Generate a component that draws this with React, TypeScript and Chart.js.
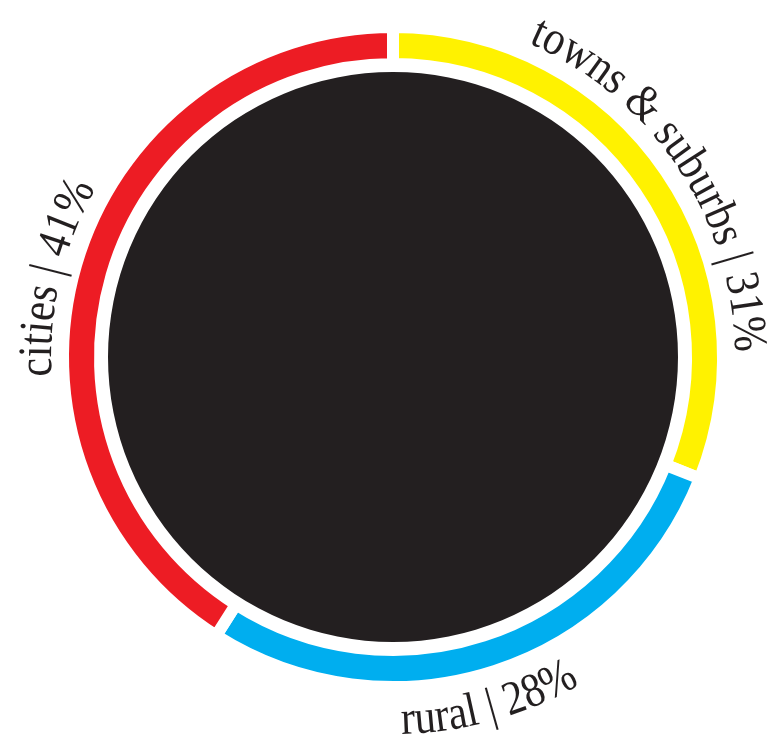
import React, { useEffect, useRef } from "react";
import { Chart, registerables } from "chart.js";

Chart.register(...registerables);

const categories = ["towns & suburbs", "rural", "cities"];
const shares = [31, 28, 41];
const colors = ["#FFF200", "#00AEEF", "#ED1C24"];
const labelShift = [0.5, 2.5, -3]; // degrees, clockwise
const discColor = "#231F20";
const textColor = "#231F20";

const curvedLabels = {
  id: "curvedLabels",
  afterDraw(chart: any) {
    const ctx = chart.ctx;
    const meta = chart.getDatasetMeta(0);
    const fontSize = 48;
    const sx = 0.88;
    ctx.save();
    ctx.font = `${fontSize}px "Liberation Serif", "Times New Roman", serif`;
    ctx.fillStyle = textColor;
    ctx.textAlign = "center";
    ctx.textBaseline = "alphabetic";
    meta.data.forEach((arc: any, i: number) => {
      const text = `${categories[i]} | ${shares[i]}%`;
      const cx = arc.x;
      const cy = arc.y;
      const mid = (arc.startAngle + arc.endAngle) / 2 + Math.PI / 2 + (labelShift[i] * Math.PI) / 180;
      const chars = Array.from(text);
      const widths = chars.map((c) => ctx.measureText(c).width * sx);
      const total = widths.reduce((a, b) => a + b, 0);
      const flip = mid > Math.PI / 2 && mid < (3 * Math.PI) / 2;
      const r = flip ? 377 : 342;
      let acc = 0;
      chars.forEach((c, k) => {
        const w = widths[k];
        let th: number;
        let rot: number;
        if (!flip) {
          th = mid - total / 2 / r + (acc + w / 2) / r;
          rot = th;
        } else {
          th = mid + total / 2 / r - (acc + w / 2) / r;
          rot = th - Math.PI;
        }
        const x = cx + r * Math.sin(th);
        const y = cy - r * Math.cos(th);
        ctx.save();
        ctx.translate(x, y);
        ctx.rotate(rot);
        ctx.scale(sx, 1);
        ctx.fillText(c, 0, 0);
        ctx.restore();
        acc += w;
      });
    });
    ctx.restore();
  },
};

export default function App() {
  const ref = useRef<HTMLCanvasElement>(null);
  useEffect(() => {
    if (!ref.current) return;
    const chart = new Chart(ref.current, {
      type: "pie",
      data: {
        labels: categories,
        datasets: [
          {
            data: shares,
            backgroundColor: colors,
            borderColor: "#ffffff",
            borderWidth: 12,
            weight: 37,
          } as any,
          {
            data: [1],
            backgroundColor: "rgba(0,0,0,0)",
            borderWidth: 0,
            weight: 8,
          } as any,
          {
            data: [1],
            backgroundColor: discColor,
            borderWidth: 0,
            weight: 285,
          } as any,
        ],
      },
      options: {
        responsive: false,
        animation: false,
        radius: 330,
        layout: { padding: { left: 2, right: 0, top: 0, bottom: 25 } },
        plugins: {
          legend: { display: false },
          tooltip: { enabled: false },
        },
      } as any,
      plugins: [curvedLabels],
    });
    return () => chart.destroy();
  }, []);
  return (
    <div style={{ position: "absolute", left: 0, top: 0, width: 784, height: 739, background: "#fff" }}>
      <canvas ref={ref} width={784} height={739} />
    </div>
  );
}
